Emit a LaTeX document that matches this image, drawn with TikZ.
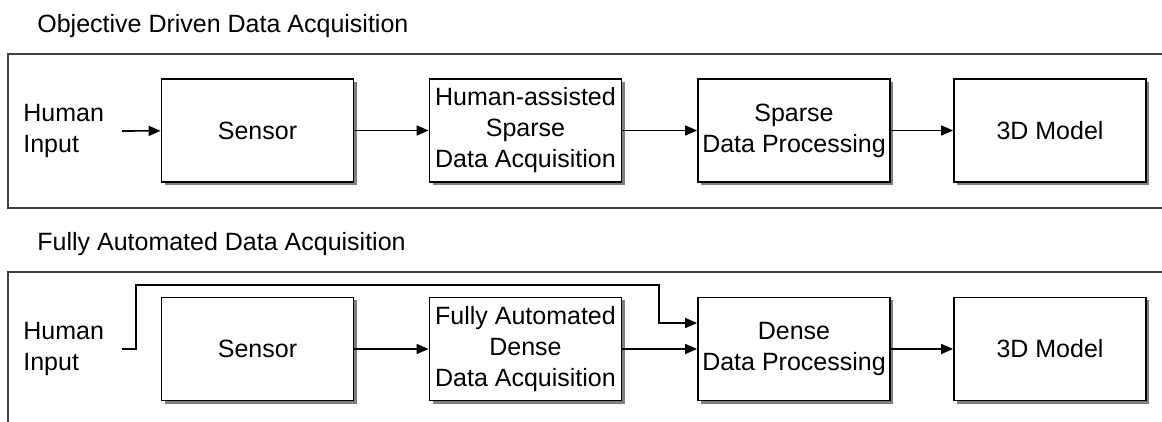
\documentclass[tikz,border=0pt]{standalone}
\usepackage{fontspec}
\setmainfont{Liberation Sans}
\usetikzlibrary{arrows.meta,shadows}

\begin{document}
\begin{tikzpicture}[x=0.5pt,y=-0.5pt,
    every node/.style={font=\fontsize{12.5}{15.5}\selectfont},
    blk/.style={draw,line width=0.9pt,fill=white,minimum width=96pt,minimum height=51.5pt,
      inner sep=0pt,align=center,
      drop shadow={shadow xshift=1.5pt,shadow yshift=-1.5pt,fill=black!50,opacity=1}},
    flow/.style={line width=0.8pt,-{Triangle[length=6pt,width=5pt]}},
    panel/.style={draw=black!75,line width=0.8pt}]
  \useasboundingbox (0,0) rectangle (1162,422);
  \clip (0,0) rectangle (1162,422);

  % upper chain: human-assisted acquisition
  \node[anchor=base west,inner sep=0pt] (title1) at (37,33) {Objective Driven Data Acquisition};
  \draw[panel] (8,54) rectangle (1180,208);
  \node[anchor=west,align=left,inner sep=0pt] (hin1) at (23,131) {Human\\Input};
  \coordinate (in1) at (122,131);
  \node[blk] (sen1) at (257.5,130.5) {Sensor};
  \node[blk] (acq1) at (525.5,130.5) {Human-assisted\\Sparse\\Data Acquisition};
  \node[blk] (dpr1) at (794,130.5) {Sparse\\Data Processing};
  \node[blk] (mod1) at (1050,130.5) {3D Model};
  \draw[flow] (in1) -- (sen1);
  \draw[flow] (sen1) -- (acq1);
  \draw[flow] (acq1) -- (dpr1);
  \draw[flow] (dpr1) -- (mod1);

  % lower chain: fully automated acquisition
  \node[anchor=base west,inner sep=0pt] (title2) at (37,251) {Fully Automated Data Acquisition};
  \draw[panel] (8,272) rectangle (1180,460);
  \node[anchor=west,align=left,inner sep=0pt] (hin2) at (23,349) {Human\\Input};
  \coordinate (in2) at (122,349);
  \coordinate (over) at (659,285);
  \node[blk] (sen2) at (257.5,349) {Sensor};
  \node[blk] (acq2) at (525.5,349) {Fully Automated\\Dense\\Data Acquisition};
  \node[blk] (dpr2) at (794,349) {Dense\\Data Processing};
  \node[blk] (mod2) at (1050,349) {3D Model};
  \draw[flow] (in2) -- ++(14,0) |- (over) |- ([yshift=13pt]dpr2.west);
  \draw[flow] (sen2) -- (acq2);
  \draw[flow] (acq2) -- (dpr2);
  \draw[flow] (dpr2) -- (mod2);
\end{tikzpicture}
\end{document}
